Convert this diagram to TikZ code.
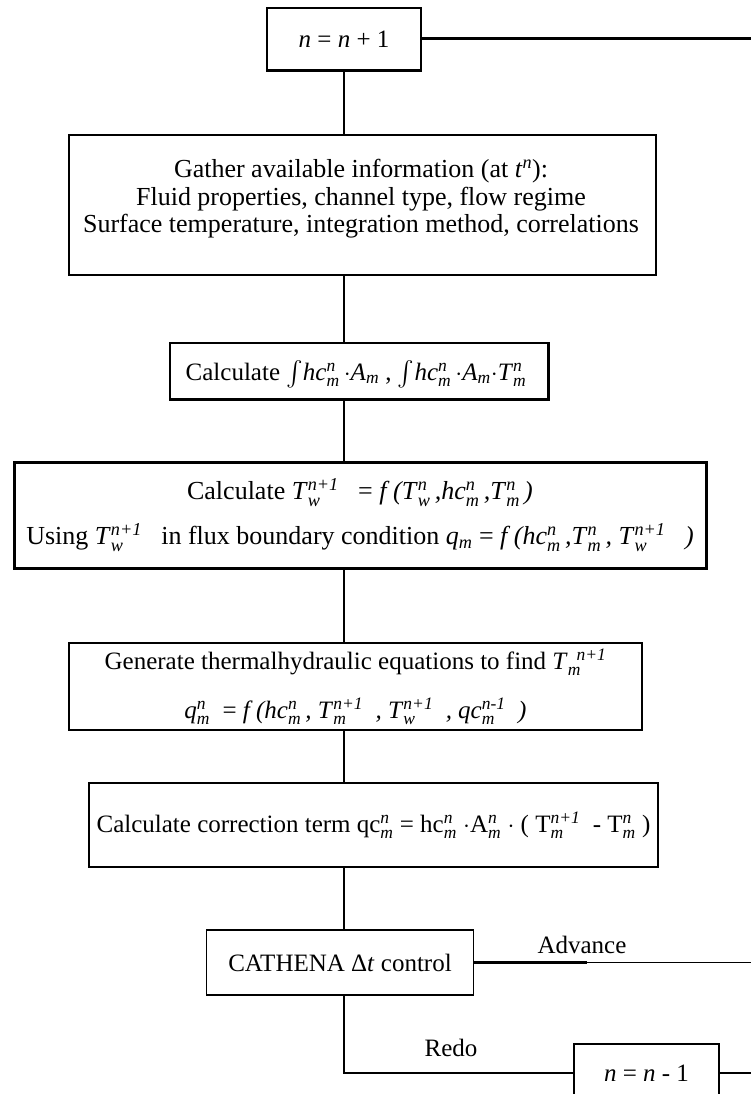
\documentclass[tikz,border=0pt]{standalone}
\usepackage{amsmath}
\usepackage{fontspec}
\setmainfont{Liberation Serif}
\newcommand\sps[2]{${}^{\text{\itshape #1}}_{\text{\itshape #2}}$}
\newcommand\sbs[1]{${}_{\text{\itshape #1}}$}
\begin{document}
\begin{tikzpicture}[x=1pt,y=-1pt,
  box/.style={draw, line width=1.8pt, fill=white, inner sep=0pt, align=center,
    font=\fontsize{25}{28}\selectfont},
  conn/.style={line width=1.5pt},
  heavy/.style={line width=3pt},
  txt/.style={inner sep=0pt, align=center},
  lbl/.style={font=\fontsize{25}{28}\selectfont, inner sep=0pt}]
\useasboundingbox (0,0) rectangle (751,1094);
\clip (0,0) rectangle (751,1094);
\fill[white] (0,0) rectangle (751,1094);
\coordinate (spine) at (344,0);
\coordinate (edgeR) at (751,0);
\coordinate (advbreak) at (587,0);

\node[box, minimum width=154, minimum height=62] (b1) at (344,39)
  {\textit{n} = \textit{n} + 1};
\node[box, minimum width=587, minimum height=140] (b2) at (362.5,205) {};
\node[txt, font=\fontsize{26}{27.5}\selectfont] (b2t) at (361,199)
  {Gather available information (at \textit{t}$^{\text{\itshape n}}$):\\
   Fluid properties, channel type, flow regime\\
   Surface temperature, integration method, correlations};
\node[box, minimum width=378, minimum height=56] (b3) at (359,371) {};
\node[txt, font=\fontsize{25}{28}\selectfont] (b3t) at (356,374)
  {Calculate $\int$\textit{hc}\sps{n}{m}\,$\cdot$\textit{A}\sbs{m}\ ,\ $\int$\textit{hc}\sps{n}{m}\,$\cdot$\textit{A}\sbs{m}$\cdot$\textit{T}\sps{n}{m}};
\node[box, line width=3pt, minimum width=692, minimum height=106, font=\fontsize{26}{29}\selectfont] (b4) at (360,515)
  {Calculate \textit{T}\sps{n+1}{w}\ \ \ = \textit{f (T}\sps{n}{w}\textit{\,,hc}\sps{n}{m}\textit{\,,T}\sps{n}{m}\textit{\,)}\\[16pt]
   Using \textit{T}\sps{n+1}{w}\ \ \ in flux boundary condition \textit{q}\sbs{m} = \textit{f (hc}\sps{n}{m}\textit{\,,T}\sps{n}{m}\textit{\,, T}\sps{n+1}{w}\textit{\ \ \ )}};
\node[box, minimum width=573, minimum height=87] (b5) at (355.5,686.5)
  {Generate thermalhydraulic equations to find \textit{T}\sps{\ \ n+1}{m}\\[21pt]
   \textit{q}\sps{n}{m}\ \ = \textit{f (hc}\sps{n}{m}\textit{\,, T}\sps{n+1}{m}\textit{\ \ , T}\sps{n+1}{w}\textit{\ \ , qc}\sps{n-1}{m}\textit{\ \ )}};
\node[box, line width=2.2pt, minimum width=569, minimum height=84] (b6) at (373.5,825)
  {Calculate correction term qc\sps{n}{m}\ = hc\sps{n}{m}\ $\cdot$A\sps{n}{m}\ $\cdot$ ( T\sps{n+1}{m}\ \ - T\sps{n}{m}\ )};
\node[box, minimum width=267, minimum height=65] (b7) at (340,962.5)
  {CATHENA Δ\textit{t} control};
\node[box, minimum width=145, minimum height=58] (b8) at (646.5,1073)
  {\textit{n} = \textit{n} - 1};

\draw[heavy] (b1.south west) -- (b1.south east);
\draw[line width=2.6pt] (b3.south west) -- (b3.south east) -- (b3.north east);

\draw[heavy] (b1.east) -- (b1.east -| edgeR);
\draw[conn] (b1.south -| spine) -- (b2.north -| spine);
\draw[conn] (b2.south -| spine) -- (b3.north -| spine);
\draw[conn] (b3.south -| spine) -- (b4.north -| spine);
\draw[conn] (b4.south -| spine) -- (b5.north -| spine);
\draw[conn] (b5.south -| spine) -- (b6.north -| spine);
\draw[conn] (b6.south -| spine) -- (b7.north -| spine);
\draw[heavy] (b7.east) -- (b7.east -| advbreak);
\draw[conn] (b7.east -| advbreak) -- (b7.east -| edgeR);
\draw[conn] (b7.south -| spine) |- (b8.west);
\draw[conn] (b8.east) -- (b8.east -| edgeR);

\node[lbl] (adv) at (582,945) {Advance};
\node[lbl] (redo) at (451,1048) {Redo};
\end{tikzpicture}
\end{document}
